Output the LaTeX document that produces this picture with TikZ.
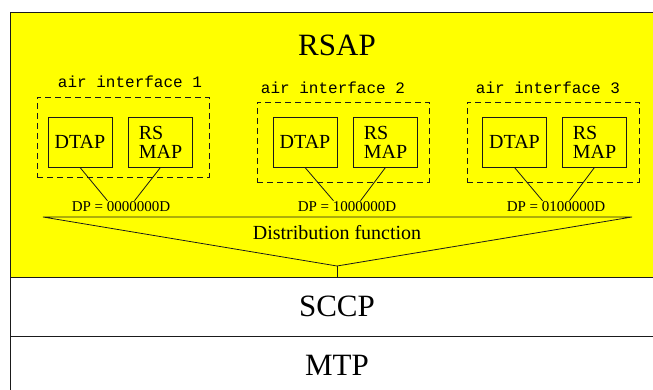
\documentclass[tikz,border=0pt]{standalone}
\usepackage{fontspec}
\setmainfont{Liberation Serif}
\setmonofont{Liberation Mono}
\usepackage{xcolor}
\definecolor{rsapYellow}{HTML}{FFFF00}
\definecolor{lineDark}{HTML}{1A1A1A}
\usepackage{tikz}
\usetikzlibrary{positioning,calc}
\tikzset{
    layer/.style={
        draw=lineDark,
        fill=white,
        rectangle,
        minimum width=654pt,
        minimum height=59pt,
        outer sep=0pt,
        line width=0.9pt,
        font=\fontsize{31}{33}\selectfont
    },
    airgroup/.style={
        draw=lineDark,
        rectangle,
        dash pattern=on 6pt off 4pt,
        minimum width=172pt,
        minimum height=80pt,
        line width=0.9pt
    },
    airlabel/.style={
        font=\fontsize{16}{18}\selectfont\ttfamily,
        inner sep=0pt
    },
    apbox/.style={
        draw=lineDark,
        rectangle,
        align=left,
        minimum width=64pt,
        minimum height=50pt,
        inner sep=2pt,
        line width=0.9pt,
        font=\fontsize{20}{19}\selectfont
    },
    dplabel/.style={
        font=\fontsize{15}{16}\selectfont,
        inner sep=1pt
    },
    link/.style={
        line width=0.8pt,
        color=lineDark
    }
}

\begin{document}
\begin{tikzpicture}[x=1pt,y=-1pt]
    \useasboundingbox (0,0) rectangle (653,389);
    \clip (0,0) rectangle (653,389);

    % Protocol layers
    \node[layer, fill=rsapYellow, minimum height=265pt] (rsap) at (337,144.5) {};
    \node[font=\fontsize{31}{33}\selectfont] (rsaptitle) at (337,45) {RSAP};
    \node[layer, below=0pt of rsap] (sccp) {SCCP};
    \node[layer, below=0pt of sccp] (mtp) {MTP};

    % Air interfaces
    \node[airgroup] (air1) at (123,137) {};
    \node[airgroup] (air2) at (343,142) {};
    \node[airgroup] (air3) at (553,142) {};
    \node[airlabel] (air1lbl) at (130,82) {air interface 1};
    \node[airlabel] (air2lbl) at (333,88) {air interface 2};
    \node[airlabel] (air3lbl) at (548,88) {air interface 3};

    \node[apbox] (dtap1) at (80,142) {DTAP};
    \node[apbox] (rsmap1) at (160.5,142) {RS\\MAP};
    \node[apbox] (dtap2) at (305,142) {DTAP};
    \node[apbox] (rsmap2) at (385.5,142) {RS\\MAP};
    \node[apbox] (dtap3) at (514.5,142) {DTAP};
    \node[apbox] (rsmap3) at (594.5,142) {RS\\MAP};

    % Distribution points
    \node[dplabel] (dp1) at (121,207) {DP = 0000000D};
    \node[dplabel] (dp2) at (347,207) {DP = 1000000D};
    \node[dplabel] (dp3) at (556,207) {DP = 0100000D};

    \draw[link] (dtap1.south) -- ([xshift=-13.5pt]dp1.north);
    \draw[link] (rsmap1.south) -- ([xshift=13.5pt]dp1.north);
    \draw[link] (dtap2.south) -- ([xshift=-13.5pt]dp2.north);
    \draw[link] (rsmap2.south) -- ([xshift=13.5pt]dp2.north);
    \draw[link] (dtap3.south) -- ([xshift=-13.5pt]dp3.north);
    \draw[link] (rsmap3.south) -- ([xshift=13.5pt]dp3.north);

    % Distribution function
    \coordinate (dfleft) at (43,217);
    \coordinate (dfright) at (632,217);
    \coordinate (dfapex) at (337,266);
    \node[font=\fontsize{20}{22}\selectfont] (distfn) at (337,233) {Distribution function};
    \draw[link] (dfleft) -- (dfright) -- (dfapex) -- cycle;
    \draw[link] (dfapex) -- (dfapex |- rsap.south);
\end{tikzpicture}
\end{document}
